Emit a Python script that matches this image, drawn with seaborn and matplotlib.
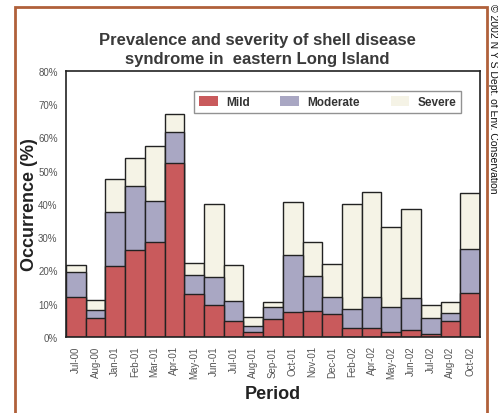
import matplotlib
matplotlib.use("Agg")
import matplotlib.pyplot as plt
import matplotlib.patches as mpatches
import seaborn as sns
import numpy as np
import pandas as pd

periods = ["Jul-00", "Aug-00", "Jan-01", "Feb-01", "Mar-01", "Apr-01", "May-01",
           "Jun-01", "Jul-01", "Aug-01", "Sep-01", "Oct-01", "Nov-01", "Dec-01",
           "Feb-02", "Apr-02", "May-02", "Jun-02", "Jul-02", "Aug-02", "Oct-02"]
mild = [12.1, 5.6, 21.4, 26.3, 28.7, 52.3, 13.0, 9.6, 4.9, 1.4, 5.4,
        7.6, 7.9, 6.9, 2.8, 2.7, 1.5, 2.0, 1.0, 4.9, 13.2]
moderate = [7.3, 2.4, 16.3, 19.0, 12.2, 9.4, 5.7, 8.3, 6.0, 2.0, 3.5,
            17.2, 10.4, 5.0, 5.5, 9.4, 7.4, 9.6, 4.8, 2.3, 13.2]
severe = [2.3, 3.1, 9.7, 8.6, 16.6, 5.5, 3.6, 22.0, 10.7, 2.6, 1.6,
          15.9, 10.3, 10.2, 31.6, 31.4, 24.1, 26.9, 3.7, 3.3, 16.8]
series = ["Mild", "Moderate", "Severe"]
colors = {"Mild": "#C95A5C", "Moderate": "#A9A7C3", "Severe": "#F5F3E6"}
yticks = [0, 10, 20, 30, 40, 50, 60, 70, 80]

df = pd.DataFrame({"Period": periods, "Mild": mild, "Moderate": moderate, "Severe": severe})
df["c_mild"] = df["Mild"]
df["c_mod"] = df["Mild"] + df["Moderate"]
df["c_sev"] = df["c_mod"] + df["Severe"]

sns.set_style("white")
plt.rcParams["font.family"] = ["Liberation Sans", "DejaVu Sans"]

fig = plt.figure(figsize=(4.98, 4.14), dpi=100)
ax = fig.add_axes([66/498, 1-338/414, (480-66)/498, (338-72)/414])

for col, name in [("c_sev", "Severe"), ("c_mod", "Moderate"), ("c_mild", "Mild")]:
    sns.barplot(data=df, x="Period", y=col, color=colors[name], saturation=1,
                width=1.0, edgecolor="#222222", linewidth=1.0, ax=ax, order=periods)

ax.set_xlim(-0.5, len(periods) - 0.5)
ax.set_ylim(0, 80)
ax.set_yticks(yticks)
ax.set_yticklabels([f"{v}%" for v in yticks], fontsize=7, color="#555555")
ax.set_xticks(range(len(periods)))
ax.set_xticklabels(periods, rotation=90, fontsize=7, color="#555555")
ax.tick_params(axis="y", length=3, width=0.8, color="#333333", pad=3)
ax.tick_params(axis="x", length=0, pad=6)
for s in ax.spines.values():
    s.set_color("#222222")
    s.set_linewidth(1.2)
ax.set_xlabel("Period", fontsize=13, fontweight="bold", color="#222222", labelpad=5)
ax.set_ylabel("Occurrence (%)", fontsize=13, fontweight="bold", color="#222222", labelpad=0)

handles = [mpatches.Patch(facecolor=colors[s], edgecolor="none", label=s) for s in series]
leg = ax.legend(handles=handles, ncol=3, loc="center",
                bbox_to_anchor=(0.2947, 0.835, 0.674, 0.097), mode="expand",
                frameon=True, fancybox=False, edgecolor="#777777",
                prop={"weight": "bold", "size": 8.5}, handlelength=1.6,
                handleheight=1.0, handletextpad=0.7, borderpad=0.4, columnspacing=1.5)
leg.get_frame().set_linewidth(1.0)
for t in leg.get_texts():
    t.set_color("#333333")

fig.text(257/498, 1-50/414, "Prevalence and severity of shell disease\nsyndrome in  eastern Long Island",
         ha="center", va="center", fontsize=12, fontweight="bold", color="#3a3a3a",
         linespacing=1.4)

# brown frame
frame = mpatches.Rectangle((15/498, -0.05), (487-15)/498, 1.05 - 8/414,
                           transform=fig.transFigure, fill=False,
                           edgecolor="#B0603A", linewidth=2.0)
fig.patches.append(frame)

fig.text(493/498, 1-4/414, "© 2002 N Y S Dept. of Env. Conservation", rotation=-90,
         ha="center", va="top", fontsize=7.5, color="#111111")

fig.savefig("out.png", dpi=100)
